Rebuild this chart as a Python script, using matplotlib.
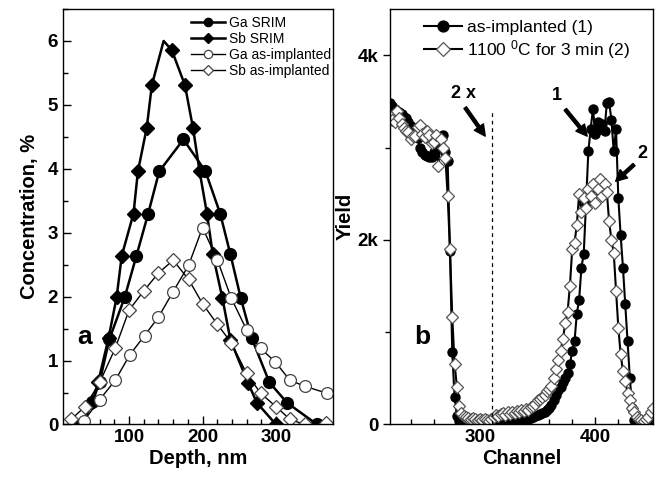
"""
Ga/Sb implantation profiles (a) and RBS spectra (b).
"""

import numpy as np
import matplotlib.pyplot as plt
from matplotlib.ticker import MultipleLocator, FuncFormatter

plt.rcParams['font.family'] = ['Liberation Sans', 'DejaVu Sans']
plt.rcParams['mathtext.default'] = 'regular'

# --- panel a: depth profiles ---
sb_srim_depth = [35, 50, 58, 72, 83, 90, 106, 112, 124, 131, 147, 158, 176, 187, 196, 206, 214, 227, 238, 262, 274, 300]
sb_srim_conc = [0.0, 0.35, 0.67, 1.35, 1.99, 2.64, 3.30, 3.96, 4.64, 5.31, 6.0, 5.86, 5.31, 4.64, 3.96, 3.30, 2.66, 1.98, 1.32, 0.65, 0.34, 0.0]
sb_srim_peak = 10  # peak of smoothed curve, no symbol

ga_srim_depth = [36, 50, 60, 73, 94, 110, 126, 141, 174, 204, 224, 238, 252, 267, 291, 315, 356]
ga_srim_conc = [0.0, 0.35, 0.67, 1.33, 1.99, 2.64, 3.30, 3.96, 4.46, 3.96, 3.30, 2.66, 1.98, 1.35, 0.66, 0.34, 0.0]

ga_impl_depth = [38, 60, 81, 101, 121, 140, 160, 181, 200, 220, 239, 260, 279, 299, 319, 339, 369]
ga_impl_conc = [0.05, 0.39, 0.69, 1.09, 1.39, 1.68, 2.08, 2.49, 3.08, 2.58, 1.98, 1.48, 1.19, 0.98, 0.69, 0.60, 0.49]

sb_impl_depth = [21, 40, 60, 81, 100, 120, 140, 160, 181, 200, 220, 239, 260, 279, 300, 319, 339, 368]
sb_impl_conc = [0.08, 0.28, 0.66, 1.19, 1.79, 2.09, 2.37, 2.57, 2.27, 1.89, 1.57, 1.28, 0.80, 0.49, 0.28, 0.08, 0.0, 0.03]

# --- panel b: RBS spectra, channels 222..450 step 2 ---
channel = list(range(222, 451, 2))
yield_asimpl = [
    3480, 3450, 3420, 3400, 3380, 3360, 3330, 3320, 3280, 3230,   # 222-240
    3200, 3170, 3100, 3000, 2950, 2920, 2910, 2900, 2900, 2950,   # 242-260
    2990, 3010, 3100, 3140, 2950, 2850, 1880, 780, 300, 90,       # 262-280
    40, 30, 25, 20, 20, 15, 20, 15, 10, 15,                       # 282-300
    10, 10, 10, 5, 10, 10, 15, 15, 20, 20,                        # 302-320
    25, 25, 30, 30, 35, 35, 40, 40, 45, 55,                       # 322-340
    60, 70, 80, 90, 100, 110, 125, 140, 155, 180,                 # 342-360
    210, 260, 320, 370, 410, 460, 500, 560, 650, 800,             # 362-380
    900, 1200, 1350, 1700, 1850, 2400, 2960, 3200, 3420, 3150,    # 382-400
    3280, 3200, 3260, 3180, 3480, 3490, 3300, 2960, 3200, 2450,   # 402-420
    2050, 1700, 1300, 900, 500, 180, 50, 20, 15, 10,              # 422-440
    15, 10, 20, 15, 20,                                           # 442-450
]
yield_anneal = [
    3340, 3300, 3280, 3390, 3320, 3250, 3210, 3180, 3170, 3090,   # 222-240
    3120, 3120, 3220, 3240, 3150, 3110, 3180, 3140, 3050, 3060,   # 242-260
    3140, 2800, 3090, 3000, 2890, 2480, 1900, 1160, 660, 410,     # 262-280
    200, 120, 90, 80, 70, 60, 70, 60, 50, 60,                     # 282-300
    50, 60, 50, 40, 60, 80, 100, 90, 110, 120,                    # 302-320
    100, 130, 110, 140, 120, 150, 130, 160, 150, 170,             # 322-340
    160, 190, 200, 220, 270, 280, 300, 320, 360, 380,             # 342-360
    420, 500, 600, 700, 800, 930, 1100, 1220, 1500, 1900,         # 362-380
    1970, 2160, 2500, 2300, 2450, 2350, 2550, 2480, 2600, 2400,   # 382-400
    2550, 2660, 2480, 2600, 2520, 2200, 2000, 1860, 1450, 1050,   # 402-420
    760, 580, 470, 340, 260, 180, 130, 80, 60, 50,                # 422-440
    40, 60, 80, 130, 180,                                         # 442-450
]
scale_change_channel = 310.5   # "2 x" boundary
scale_line_top = 3420

fig = plt.figure(figsize=(6.59, 4.82), dpi=100)
ax1 = fig.add_axes([0.0956, 0.1193, 0.409, 0.862])
ax2 = fig.add_axes([0.5918, 0.1193, 0.399, 0.862])

# Panel a
big = 8.5
ax1.plot(sb_srim_depth, sb_srim_conc, 'k-', lw=1.8, marker='D', ms=big * 0.85, mfc='black', mec='black',
         markevery=[i for i in range(len(sb_srim_depth)) if i != sb_srim_peak], label='Sb SRIM')
ax1.plot(ga_srim_depth, ga_srim_conc, 'k-', lw=1.8, marker='o', ms=big, mfc='black', mec='black', label='Ga SRIM')
ax1.plot(ga_impl_depth, ga_impl_conc, 'k-', lw=1.0, marker='o', ms=big, mfc='white', mec='#444444', mew=0.9,
         label='Ga as-implanted')
ax1.plot(sb_impl_depth, sb_impl_conc, 'k-', lw=1.0, marker='D', ms=big * 0.8, mfc='white', mec='#444444', mew=0.9,
         label='Sb as-implanted')

ax1.set_xlim(10, 377)
ax1.set_ylim(0, 6.5)
ax1.xaxis.set_major_locator(MultipleLocator(100))
ax1.xaxis.set_minor_locator(MultipleLocator(20))
ax1.yaxis.set_major_locator(MultipleLocator(1))
ax1.yaxis.set_minor_locator(MultipleLocator(0.5))
ax1.tick_params(which='both', direction='in', top=False, right=False, labelsize=13.5, width=1)
ax1.tick_params(which='major', length=6)
ax1.tick_params(which='minor', length=3.5)
for lab in ax1.get_xticklabels() + ax1.get_yticklabels():
    lab.set_fontweight('bold')
ax1.set_xlabel('Depth, nm', fontsize=14.5, fontweight='bold', labelpad=2)
ax1.set_ylabel('Concentration, %', fontsize=14.5, fontweight='bold', labelpad=6)
ax1.text(40, 1.37, 'a', fontsize=19, fontweight='bold', ha='center', va='center')

h, l = ax1.get_legend_handles_labels()
order = [1, 0, 2, 3]
ax1.legend([h[i] for i in order], [l[i] for i in order], loc='upper right', frameon=False,
           fontsize=10, markerscale=0.7, handlelength=2.4, handletextpad=0.3, labelspacing=0.15,
           borderaxespad=0.1, bbox_to_anchor=(1.02, 1.0))

# Panel b
ax2.plot(channel, yield_asimpl, 'k-', lw=1.5, marker='o', ms=6.5, mfc='black', mec='black', label='as-implanted (1)')
ax2.plot(channel, yield_anneal, 'k-', lw=1.5, marker='D', ms=6, mfc='white', mec='#555555', mew=0.9,
         label='1100 $^{0}$C for 3 min (2)')
ax2.axvline(scale_change_channel, ymax=scale_line_top / 4500, color='k', ls='--', lw=0.9, dashes=(3, 3))

ax2.set_xlim(222, 450)
ax2.set_ylim(0, 4500)
ax2.xaxis.set_major_locator(MultipleLocator(100))
ax2.xaxis.set_minor_locator(MultipleLocator(20))
ax2.yaxis.set_major_locator(MultipleLocator(2000))
ax2.yaxis.set_minor_locator(MultipleLocator(1000))
ax2.yaxis.set_major_formatter(FuncFormatter(lambda v, p: '0' if v == 0 else '%dk' % (v / 1000)))
ax2.tick_params(which='both', top=False, right=False, labelsize=13.5, width=1)
ax2.tick_params(axis='x', which='both', direction='in')
ax2.tick_params(axis='y', which='both', direction='out')
ax2.tick_params(which='major', length=5)
ax2.tick_params(which='minor', length=3.5)
for lab in ax2.get_xticklabels() + ax2.get_yticklabels():
    lab.set_fontweight('bold')
ax2.set_xlabel('Channel', fontsize=14.5, fontweight='bold', labelpad=2)
ax2.set_ylabel('Yield', fontsize=14.5, fontweight='bold', labelpad=2)
ax2.text(250, 950, 'b', fontsize=19, fontweight='bold', ha='center', va='center')

ax2.legend(loc='upper left', frameon=False, fontsize=12.5, markerscale=1.2, handlelength=2.2,
           handletextpad=0.3, labelspacing=0.2, bbox_to_anchor=(0.09, 1.0), borderaxespad=0.2)

arrow = dict(facecolor='black', edgecolor='black', width=2.2, headwidth=8, headlength=8, shrink=0)
ax2.annotate('', xy=(304.6, 3123), xytext=(287.2, 3432), arrowprops=arrow)
ax2.text(285.5, 3580, '2 x', fontsize=13, fontweight='bold', ha='center', va='center')
ax2.annotate('', xy=(393, 3123), xytext=(374, 3413), arrowprops=arrow)
ax2.text(367, 3560, '1', fontsize=13, fontweight='bold', ha='center', va='center')
ax2.annotate('', xy=(417.7, 2634), xytext=(433.6, 2815), arrowprops=arrow)
ax2.text(441, 2930, '2', fontsize=13, fontweight='bold', ha='center', va='center')

for ax in (ax1, ax2):
    for s in ax.spines.values():
        s.set_linewidth(1.0)

fig.savefig('out.png', dpi=100)
